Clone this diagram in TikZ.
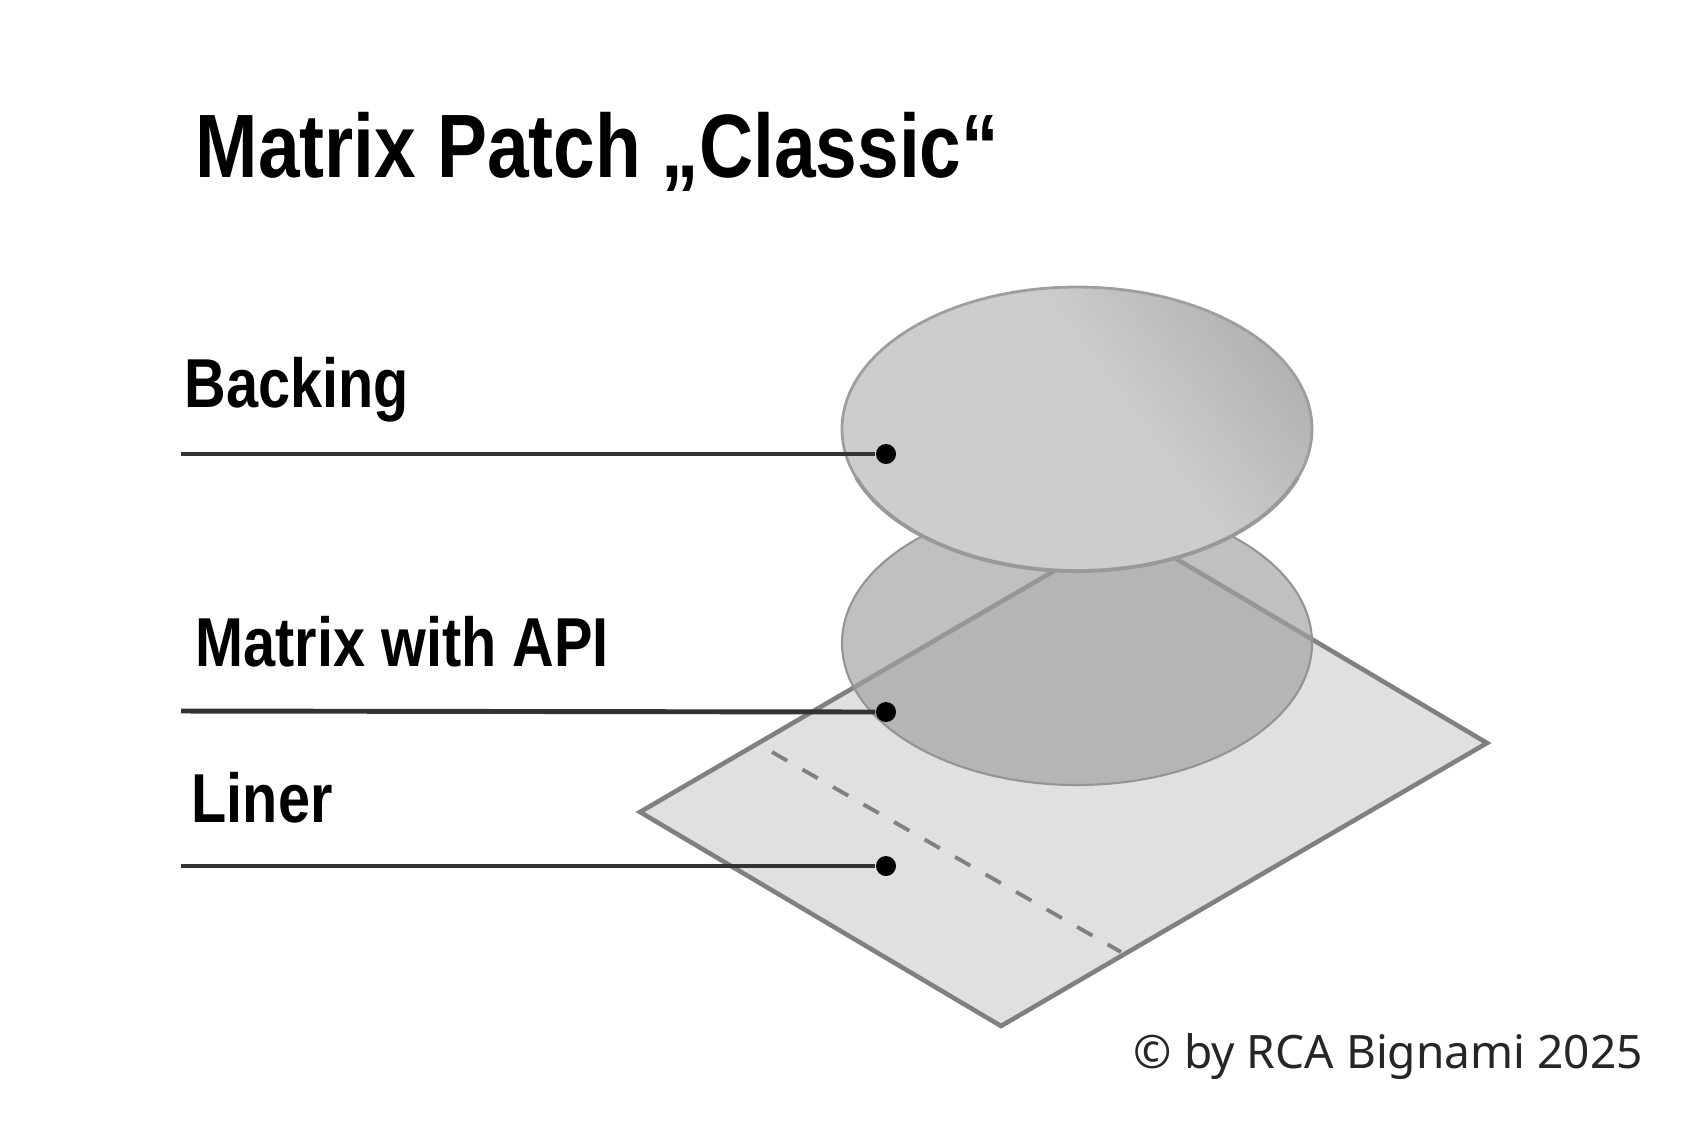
\documentclass[tikz,border=0pt]{standalone}
\usepackage{fontspec}
\usepackage{tikz}
\setmainfont{Liberation Sans}
\newfontfamily\headfont[FakeStretch=0.832]{Liberation Sans Bold}
\newfontfamily\notefont{Noto Sans}
\definecolor{rimgrey}{gray}{0.5}
\definecolor{leadgrey}{gray}{0.2}
\definecolor{disclight}{gray}{0.805}
\definecolor{discdark}{gray}{0.68}
\pgfdeclarehorizontalshading{discshade}{100bp}{color(0bp)=(disclight); color(56bp)=(disclight); color(80bp)=(discdark); color(100bp)=(discdark)}
\tikzset{
    leader/.style = {line width=1.4pt, leadgrey},
    leaddot/.style = {circle, fill=black, inner sep=0pt, minimum size=0.2cm},
    heading/.style = {anchor = base west, inner sep=0pt, font=\headfont\fontsize{19.7pt}{21pt}\selectfont},
}
\begin{document}
\begin{tikzpicture}[x=0.01cm,y=-0.01cm]
                    \useasboundingbox (0,0) rectangle (1700,1132);
                    \draw [line width=1.3pt, rimgrey, fill=black!12, line join=miter] (640,812) -- (1126,529) -- (1487,743) -- (1001,1026) -- cycle;
                    \draw [line width=1.1pt, rimgrey, dashed, dash pattern=on 5pt off 5pt] (772,752) -- (1121,952);
                    \draw [line width=0.6pt, black!42, fill=black!37, fill opacity=0.67] (1077,643) ellipse (235 and 142);
                    \draw [line width=0.8pt, black!38, shading=discshade, shading angle=37] (1077,429) ellipse (235 and 142);
                    \draw [line width=1.1pt, black!40] (1297.8,477.6) arc (20:160:235 and 142);
                    \node [heading, font=\headfont\fontsize{25.6pt}{28pt}\selectfont] (title) at (195,177) {Matrix Patch „Classic“};
                    \node [heading] (backing) at (184,407) {Backing};
                    \node [heading] (matrix) at (195,666) {Matrix with API};
                    \node [heading] (liner) at (191,822) {Liner};
                    \coordinate (backingend) at (181,454);
                    \coordinate (matrixend) at (181,711);
                    \coordinate (linerend) at (181,866);
                    \node [leaddot] (backingdot) at (886,454) {};
                    \node [leaddot] (matrixdot) at (886,712) {};
                    \node [leaddot] (linerdot) at (886,866) {};
                    \draw [leader] (backingend) -- (backingdot);
                    \draw [leader] (matrixend) -- (matrixdot);
                    \draw [leader] (linerend) -- (linerdot);
                    \node [anchor = base west, inner sep=0pt, font=\notefont\fontsize{13.1pt}{15pt}\selectfont, black!85] (credit) at (1133,1068) {© by RCA Bignami 2025};
\end{tikzpicture}
\end{document}
